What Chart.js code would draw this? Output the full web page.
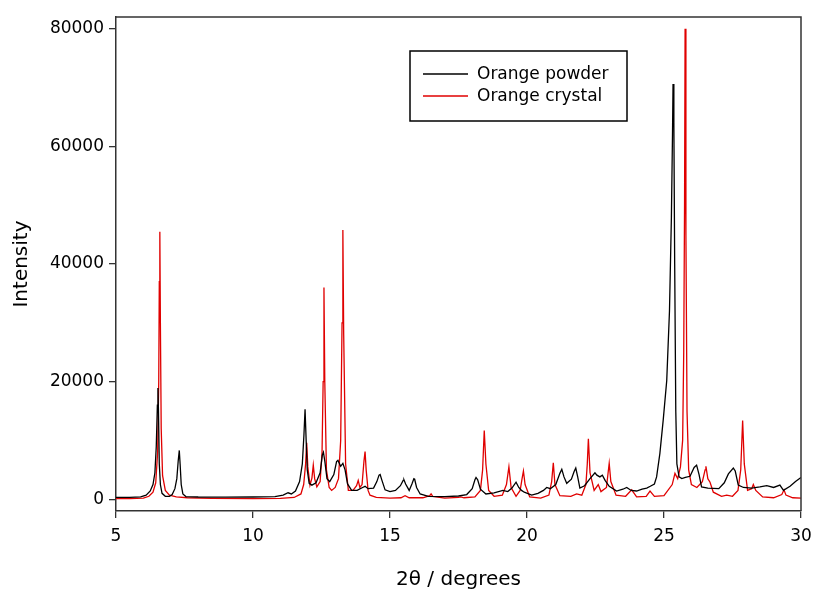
<!DOCTYPE html>
<html>
<head>
<meta charset="utf-8">
<script src="https://cdn.jsdelivr.net/npm/chart.js@4/dist/chart.umd.min.js"></script>
<style>
  html, body { margin: 0; padding: 0; background: #ffffff; }
  #wrap { width: 814px; height: 597px; position: relative; }
</style>
</head>
<body>
<div id="wrap"><canvas id="c" width="814" height="597"></canvas></div>
<script>
// ---- Data ----
const powderLabel = "Orange powder";
const crystalLabel = "Orange crystal";

const powderTheta = [
  5.0, 5.5, 5.9, 6.1, 6.25, 6.35, 6.42, 6.47, 6.51, 6.53, 6.55, 6.58, 6.62, 6.68, 6.8, 6.95,
  7.05, 7.15, 7.22, 7.27, 7.31, 7.34, 7.38, 7.44, 7.55, 8.0, 9.0, 10.0, 10.8, 11.1, 11.28, 11.4,
  11.55, 11.7, 11.8, 11.86, 11.9, 11.94, 11.98, 12.05, 12.15, 12.3, 12.45, 12.53, 12.57, 12.62, 12.7, 12.8,
  12.95, 13.05, 13.1, 13.2, 13.28, 13.36, 13.45, 13.6, 13.8, 14.0, 14.09, 14.2, 14.4, 14.52, 14.6, 14.64,
  14.7, 14.82, 15.0, 15.2, 15.38, 15.48, 15.51, 15.57, 15.7, 15.8, 15.87, 15.9, 15.97, 16.1, 16.4, 17.0,
  17.5, 17.8, 18.0, 18.1, 18.14, 18.2, 18.3, 18.5, 18.8, 19.12, 19.3, 19.45, 19.6, 19.7, 19.8, 19.9,
  20.17, 20.4, 20.6, 20.72, 20.85, 21.05, 21.2, 21.27, 21.35, 21.45, 21.62, 21.72, 21.78, 21.85, 21.93, 22.1,
  22.3, 22.48, 22.55, 22.66, 22.75, 22.85, 23.0, 23.27, 23.5, 23.64, 23.8, 24.0, 24.2, 24.37, 24.5, 24.65,
  24.73, 24.85, 24.97, 25.1, 25.2, 25.27, 25.31, 25.33, 25.36, 25.39, 25.43, 25.47, 25.55, 25.65, 25.78, 25.95,
  26.1, 26.19, 26.28, 26.37, 26.6, 27.0, 27.2, 27.35, 27.53, 27.6, 27.71, 27.9, 28.2, 28.5, 28.75, 29.0,
  29.23, 29.36, 29.6, 29.8, 30.0
];
const powderIntensity = [
  300, 320, 400, 700, 1400, 2500, 4500, 9000, 16000, 18900, 15000, 6000, 2500, 1000, 500, 500,
  800, 1800, 3500, 6500, 8300, 6000, 2500, 900, 450, 380, 350, 380, 450, 700, 1100, 900,
  1400, 3000, 6000, 11000, 15300, 10000, 5000, 2700, 2400, 2800, 4500, 7500, 8000, 6500, 3500, 3000,
  4200, 6400, 6600, 5600, 6100, 5000, 2600, 1500, 1500, 2000, 2200, 1800, 1900, 3000, 4100, 4200,
  3300, 1600, 1300, 1500, 2300, 3200, 3300, 2600, 1500, 2600, 3500, 3400, 2000, 900, 500, 450,
  550, 800, 1800, 3300, 3700, 3300, 1700, 900, 1100, 1500, 1300, 1900, 2900, 2000, 1500, 1200,
  700, 1000, 1500, 2000, 1800, 2500, 4400, 5100, 3800, 2700, 3400, 4700, 5300, 3800, 1900, 2300,
  3500, 4500, 4100, 3800, 4100, 3200, 2200, 1400, 1700, 2000, 1500, 1400, 1700, 1900, 2200, 2600,
  3800, 7800, 13400, 20200, 32000, 48000, 62000, 70600, 64000, 40000, 15000, 6000, 3800, 3500, 3700, 3900,
  5400, 5800, 4200, 2100, 1900, 1800, 2800, 4300, 5300, 4800, 2400, 2000, 1900, 2100, 2300, 2000,
  2400, 1500, 2200, 3000, 3700
];

const crystalTheta = [
  5.0, 5.5, 6.0, 6.2, 6.35, 6.45, 6.52, 6.56, 6.58, 6.6, 6.62, 6.65, 6.7, 6.8, 6.95, 7.2,
  7.6, 8.5, 10.0, 11.0, 11.5, 11.75, 11.85, 11.92, 11.96, 12.0, 12.08, 12.15, 12.2, 12.25, 12.33, 12.45,
  12.52, 12.56, 12.59, 12.62, 12.68, 12.78, 12.87, 13.0, 13.12, 13.2, 13.25, 13.28, 13.31, 13.38, 13.48, 13.65,
  13.78, 13.84, 13.9, 13.98, 14.05, 14.09, 14.13, 14.2, 14.27, 14.5, 15.0, 15.4, 15.55, 15.7, 16.2, 16.45,
  16.5, 16.56, 17.0, 17.5, 17.58, 17.7, 18.1, 18.3, 18.38, 18.44, 18.5, 18.6, 18.8, 19.1, 19.25, 19.34,
  19.42, 19.6, 19.75, 19.82, 19.87, 19.93, 20.1, 20.5, 20.8, 20.9, 20.96, 21.02, 21.2, 21.6, 21.81, 22.0,
  22.15, 22.2, 22.24, 22.3, 22.45, 22.6, 22.7, 22.9, 22.96, 23.0, 23.06, 23.25, 23.6, 23.82, 24.0, 24.35,
  24.49, 24.65, 25.0, 25.3, 25.4, 25.5, 25.6, 25.68, 25.72, 25.75, 25.77, 25.8, 25.84, 25.9, 26.0, 26.2,
  26.4, 26.5, 26.53, 26.6, 26.68, 26.8, 27.1, 27.29, 27.5, 27.7, 27.8, 27.87, 27.93, 28.05, 28.2, 28.26,
  28.35, 28.6, 29.0, 29.3, 29.38, 29.45, 29.7, 30.0
];
const crystalIntensity = [
  100, 100, 200, 500, 1200, 2800, 8000, 20000, 37000, 45500, 30000, 12000, 4000, 1500, 700, 400,
  250, 150, 120, 150, 300, 900, 2500, 6000, 9600, 5500, 2400, 3600, 5800, 3500, 2100, 3000,
  8000, 20000, 36000, 20000, 5000, 2000, 1500, 2000, 3500, 10000, 30000, 45800, 28000, 6000, 1500, 1500,
  2300, 3200, 2000, 2500, 6500, 8100, 5000, 1500, 700, 300, 200, 250, 600, 250, 250, 600,
  900, 500, 200, 300, 400, 250, 400, 1500, 5000, 11700, 6000, 1500, 500, 700, 2500, 5500,
  2000, 500, 1500, 3500, 4800, 2500, 400, 200, 700, 3000, 6200, 2500, 600, 500, 900, 700,
  2500, 6000, 10300, 4500, 1500, 2500, 1300, 2000, 4500, 6100, 3000, 700, 500, 1600, 400, 500,
  1400, 500, 600, 2500, 4400, 3500, 5500, 10000, 25000, 50000, 80000, 45000, 15000, 5000, 2500, 2000,
  3000, 5000, 5600, 3500, 2900, 1200, 500, 700, 500, 1500, 5000, 13400, 6000, 1500, 1800, 2500,
  1500, 400, 250, 800, 1600, 700, 250, 200
];

const xTicks = [5, 10, 15, 20, 25, 30];
const yTicks = [0, 20000, 40000, 60000, 80000];

// ---- Build chart ----
const toPoints = (xs, ys) => xs.map((x, i) => ({ x: x, y: ys[i] }));

const frameAndLegend = {
  id: 'frameAndLegend',
  afterDatasetsDraw(chart) {
    const { ctx, chartArea: a } = chart;
    ctx.save();
    // box frame (top and right sides)
    ctx.strokeStyle = '#333333';
    ctx.lineWidth = 1.5;
    ctx.beginPath();
    ctx.moveTo(a.left, a.top);
    ctx.lineTo(a.right, a.top);
    ctx.lineTo(a.right, a.bottom);
    ctx.stroke();
    // legend box
    const bx = 410, by = 51, bw = 217, bh = 70;
    ctx.fillStyle = '#ffffff';
    ctx.fillRect(bx, by, bw, bh);
    ctx.strokeStyle = '#000000';
    ctx.lineWidth = 1.5;
    ctx.strokeRect(bx, by, bw, bh);
    const rows = [74, 96];
    chart.data.datasets.forEach((ds, i) => {
      const y = rows[i];
      ctx.strokeStyle = ds.borderColor;
      ctx.lineWidth = 1.3;
      ctx.beginPath();
      ctx.moveTo(423, y);
      ctx.lineTo(468, y);
      ctx.stroke();
      ctx.fillStyle = '#000000';
      ctx.font = '17px "DejaVu Sans", sans-serif';
      ctx.textBaseline = 'middle';
      ctx.textAlign = 'left';
      ctx.fillText(ds.label, 477, y + 1);
    });
    ctx.restore();
  }
};

new Chart(document.getElementById('c'), {
  type: 'line',
  data: {
    datasets: [
      {
        label: powderLabel,
        data: toPoints(powderTheta, powderIntensity),
        borderColor: '#000000',
        borderWidth: 1.3,
        pointRadius: 0,
        tension: 0,
        fill: false
      },
      {
        label: crystalLabel,
        data: toPoints(crystalTheta, crystalIntensity),
        borderColor: '#e00000',
        borderWidth: 1.3,
        pointRadius: 0,
        tension: 0,
        fill: false
      }
    ]
  },
  options: {
    responsive: false,
    animation: false,
    parsing: true,
    layout: { padding: { top: 17, right: 13, left: 0, bottom: 0 } },
    plugins: {
      legend: { display: false },
      tooltip: { enabled: false }
    },
    scales: {
      x: {
        type: 'linear',
        min: 5,
        max: 30,
        afterFit(scale) { scale.height = 86; scale.paddingRight = 0; scale.paddingLeft = 0; },
        afterBuildTicks(scale) { scale.ticks = xTicks.map(v => ({ value: v })); },
        grid: { drawOnChartArea: false, drawTicks: true, tickLength: 7, color: '#333333', lineWidth: 1.3 },
        border: { display: true, color: '#333333', width: 1.5 },
        ticks: { color: '#000000', padding: 8, font: { family: '"DejaVu Sans", sans-serif', size: 17 } },
        title: {
          display: true,
          text: '2θ / degrees',
          color: '#000000',
          padding: { top: 0, bottom: 5 },
          font: { family: '"DejaVu Sans", sans-serif', size: 20 }
        }
      },
      y: {
        type: 'linear',
        min: -2000,
        max: 82000,
        afterFit(scale) { scale.width = 116; },
        afterBuildTicks(scale) { scale.ticks = yTicks.map(v => ({ value: v })); },
        grid: { drawOnChartArea: false, drawTicks: true, tickLength: 7, color: '#333333', lineWidth: 1.3 },
        border: { display: true, color: '#333333', width: 1.5 },
        ticks: { color: '#000000', padding: 5, font: { family: '"DejaVu Sans", sans-serif', size: 17 },
                 callback: (v) => String(v) },
        title: {
          display: true,
          text: 'Intensity',
          color: '#000000',
          padding: { top: 10, bottom: 0 },
          font: { family: '"DejaVu Sans", sans-serif', size: 20 }
        }
      }
    }
  },
  plugins: [frameAndLegend]
});
</script>
</body>
</html>
